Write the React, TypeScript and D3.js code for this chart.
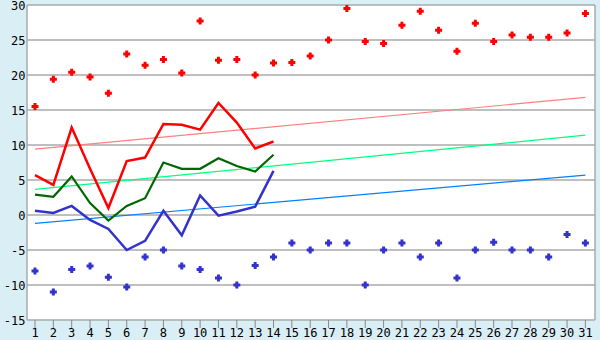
import React from "react";
import * as d3 from "d3";

const days = d3.range(1, 32);
const yTicks = [-15, -10, -5, 0, 5, 10, 15, 20, 25, 30];

const maxPoints = [15.5, 19.4, 20.4, 19.7, 17.4, 23.0, 21.4, 22.2, 20.3, 27.7, 22.1, 22.2, 20.0, 21.7, 21.8, 22.7, 25.0, 29.5, 24.8, 24.5, 27.1, 29.1, 26.4, 23.4, 27.4, 24.8, 25.7, 25.4, 25.4, 26.0, 28.8];
const minPoints = [-8.0, -11.0, -7.8, -7.3, -8.9, -10.3, -6.0, -5.0, -7.3, -7.8, -9.0, -10.0, -7.2, -6.0, -4.0, -5.0, -4.0, -4.0, -10.0, -5.0, -4.0, -6.0, -4.0, -9.0, -5.0, -3.9, -5.0, -5.0, -6.0, -2.8, -4.0];

const maxLine = [5.7, 4.3, 12.5, 6.6, 1.0, 7.7, 8.2, 13.0, 12.9, 12.2, 16.0, 13.2, 9.5, 10.5];
const meanLine = [2.9, 2.6, 5.5, 1.7, -0.8, 1.3, 2.4, 7.5, 6.6, 6.6, 8.1, 7.0, 6.2, 8.6];
const minLine = [0.6, 0.3, 1.3, -0.7, -2.0, -5.0, -3.7, 0.6, -2.9, 2.8, -0.1, 0.5, 1.2, 6.3];

const maxTrend = [9.4, 16.8];
const meanTrend = [3.65, 11.4];
const minTrend = [-1.2, 5.7];

const W = 600, H = 340;
const left = 27, right = 595, top = 5, bottom = 320;

const x = d3.scaleLinear().domain([1, 31]).range([35, 585.4]);
const y = d3.scaleLinear().domain([-15, 30]).range([bottom, top]);

const lineGen = d3.line<number>().x((_, i) => x(i + 1)).y((d) => y(d));

const marker = "M-1.5,-3.5h3v2h2v3h-2v2h-3v-2h-2v-3h2z";

export default function App() {
  const font = "'DejaVu Sans Mono', monospace";
  const trend = (t: number[], color: string) => (
    <line x1={x(1)} x2={x(31)} y1={y(t[0])} y2={y(t[1])} stroke={color} strokeWidth={1.2} />
  );
  return (
    <svg width={W} height={H} style={{ position: "absolute", left: 0, top: 0 }}>
      <rect width={W} height={H} fill="#daeef5" />
      <rect x={left} y={top} width={right - left} height={bottom - top} fill="#ffffff" />
      {yTicks.map((t) => (
        <g key={t}>
          <line x1={left} x2={right} y1={y(t)} y2={y(t)} stroke="#aaaaaa" strokeWidth={1.5} />
          <text x={25.5} y={y(t)} dy="0.4em" textAnchor="end" fontFamily={font} fontSize={12} fill="#000">
            {t}
          </text>
        </g>
      ))}
      <line x1={left} x2={left} y1={top} y2={bottom} stroke="#aaaaaa" strokeWidth={1.5} />
      <line x1={right} x2={right} y1={top} y2={bottom} stroke="#aaaaaa" strokeWidth={1.5} />
      {days.map((d) => (
        <g key={d}>
          <line x1={x(d)} x2={x(d)} y1={bottom} y2={bottom + 8} stroke="#888888" strokeWidth={1} />
          <text x={x(d)} y={337} textAnchor="middle" fontFamily={font} fontSize={12} fill="#000">
            {d}
          </text>
        </g>
      ))}
      {trend(maxTrend, "#ff8080")}
      {trend(meanTrend, "#00ff80")}
      {trend(minTrend, "#0080ff")}
      <path d={lineGen(maxLine) || ""} fill="none" stroke="#ff0000" strokeWidth={2.5} />
      <path d={lineGen(meanLine) || ""} fill="none" stroke="#006600" strokeWidth={2.2} />
      <path d={lineGen(minLine) || ""} fill="none" stroke="#3333cc" strokeWidth={2.5} />
      {maxPoints.map((v, i) => (
        <path key={"mx" + i} d={marker} transform={`translate(${x(i + 1)},${y(v)})`} fill="#ff0000" />
      ))}
      {minPoints.map((v, i) => (
        <path key={"mn" + i} d={marker} transform={`translate(${x(i + 1)},${y(v)})`} fill="#3333cc" />
      ))}
    </svg>
  );
}
